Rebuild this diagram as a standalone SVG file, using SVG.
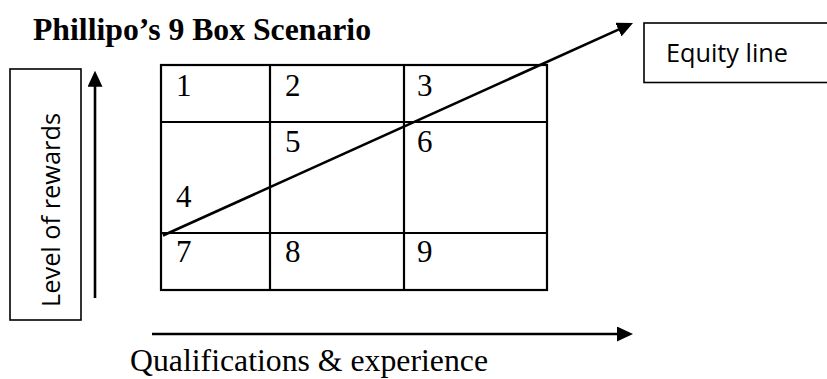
<svg xmlns="http://www.w3.org/2000/svg" width="827" height="379" viewBox="0 0 827 379">
<style>
.title{font-family:"Liberation Serif","Times New Roman",serif;font-weight:bold;font-size:31px;fill:#000}
.num{font-family:"Liberation Serif","Times New Roman",serif;font-size:31px;fill:#000}
.axis{font-family:"Liberation Serif","Times New Roman",serif;font-size:31px;fill:#000}
.cal{font-family:"Open Sans","Liberation Sans",sans-serif;font-size:26px;fill:#000}
.cell{fill:none;stroke:#000;stroke-width:2.2}
.box{fill:#fff;stroke:#000;stroke-width:1.6}
.arr{fill:none;stroke:#000;stroke-width:2.6}
</style>
<defs>
<marker id="ah" markerUnits="userSpaceOnUse" markerWidth="16" markerHeight="15" viewBox="0 0 16 15" refX="6" refY="7.5" orient="auto">
<path d="M0,0 L16,7.5 L0,15 z" fill="#000"/>
</marker>
</defs>
<rect width="827" height="379" fill="#fff"/>
<text class="title" x="33" y="40" textLength="338" lengthAdjust="spacingAndGlyphs">Phillipo’s 9 Box Scenario</text>

<g id="grid">
<rect class="cell" x="161" y="65" width="386" height="225"/>
<line class="cell" x1="270" y1="65" x2="270" y2="290"/>
<line class="cell" x1="404" y1="65" x2="404" y2="290"/>
<line class="cell" x1="161" y1="122" x2="547" y2="122"/>
<line class="cell" x1="161" y1="233" x2="547" y2="233"/>
</g>
<g id="cell1"><text class="num" x="176" y="96">1</text></g>
<g id="cell2"><text class="num" x="285" y="96">2</text></g>
<g id="cell3"><text class="num" x="417" y="96">3</text></g>
<g id="cell4"><text class="num" x="176" y="207">4</text></g>
<g id="cell5"><text class="num" x="285" y="152">5</text></g>
<g id="cell6"><text class="num" x="417" y="152">6</text></g>
<g id="cell7"><text class="num" x="176" y="262">7</text></g>
<g id="cell8"><text class="num" x="285" y="262">8</text></g>
<g id="cell9"><text class="num" x="417" y="262">9</text></g>

<g id="rewards-label">
<rect class="box" x="10" y="69" width="71" height="251"/>
<text class="cal" transform="translate(60,307) rotate(-90)" x="0" y="0" textLength="194" lengthAdjust="spacingAndGlyphs">Level of rewards</text>
</g>

<g id="equity-label">
<rect class="box" x="644" y="23" width="200" height="59.5"/>
<text class="cal" x="666" y="62" textLength="122" lengthAdjust="spacingAndGlyphs">Equity line</text>
</g>

<g id="qual-label">
<text class="axis" x="130" y="371" textLength="358" lengthAdjust="spacingAndGlyphs">Qualifications &amp; experience</text>
</g>

<g id="connectors">
<line class="arr" x1="95" y1="298" x2="95" y2="80.7" marker-end="url(#ah)"/>
<line class="arr" x1="152" y1="334" x2="623" y2="334" marker-end="url(#ah)"/>
<line class="arr" x1="163" y1="235.5" x2="623.9" y2="27.1" marker-end="url(#ah)"/>
</g>
</svg>
